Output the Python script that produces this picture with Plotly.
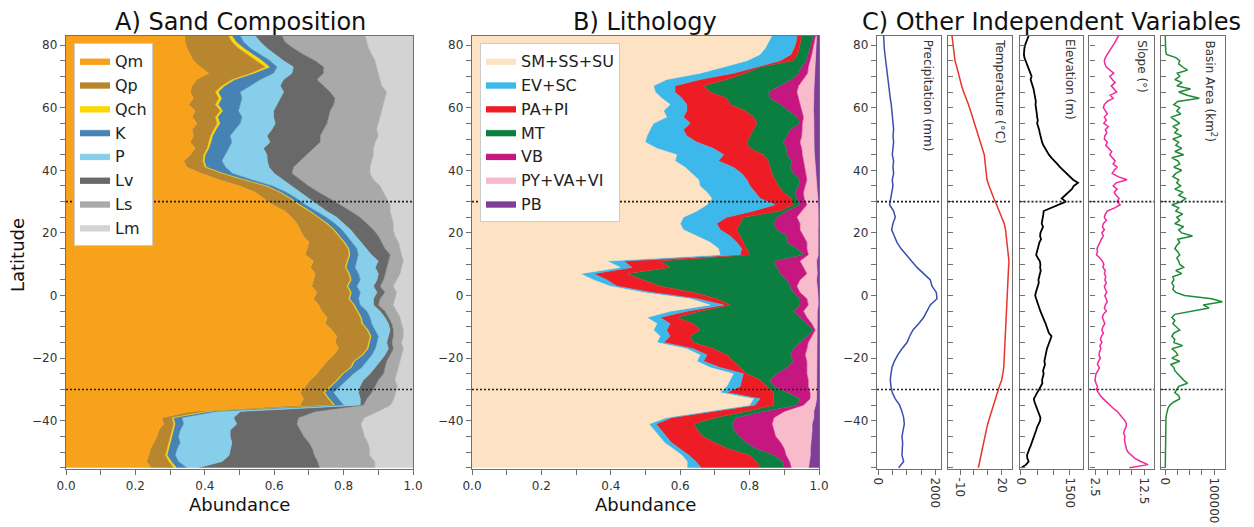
import plotly.graph_objects as go

# ---------------- latitude grids ----------------
lat = list(range(83, -56, -2))        # 70 samples, 83N .. 55S
lat_fine = list(range(83, -56, -1))   # 139 samples

# ---------------- Panel A: sand composition (cumulative upper edges) ----------------
qm_edge = [0.343,0.343,0.348,0.358,0.367,0.387,0.411,0.377,0.363,0.358,
           0.367,0.353,0.372,0.363,0.377,0.363,0.367,0.358,0.372,0.358,
           0.339,0.348,0.390,0.440,0.500,0.545,0.570,0.595,0.630,0.650,
           0.665,0.675,0.684,0.700,0.694,0.689,0.713,0.704,0.718,0.713,
           0.708,0.723,0.713,0.728,0.737,0.752,0.747,0.766,0.780,0.776,
           0.785,0.771,0.752,0.737,0.723,0.704,0.689,0.675,0.684,0.675,
           0.358,0.276,0.281,0.267,0.262,0.252,0.243,0.238,0.232,0.245]
qp_edge = [0.468,0.478,0.497,0.523,0.550,0.574,0.531,0.478,0.449,0.430,
           0.440,0.430,0.444,0.430,0.435,0.425,0.416,0.411,0.406,0.396,
           0.394,0.400,0.450,0.510,0.575,0.615,0.645,0.670,0.700,0.725,
           0.750,0.770,0.785,0.800,0.812,0.815,0.809,0.804,0.814,0.819,
           0.809,0.819,0.814,0.828,0.838,0.848,0.852,0.867,0.876,0.872,
           0.867,0.852,0.828,0.819,0.795,0.780,0.761,0.742,0.756,0.771,
           0.406,0.305,0.310,0.305,0.300,0.296,0.289,0.286,0.296,0.310]
qch_edge = [0.478,0.490,0.512,0.539,0.565,0.586,0.541,0.486,0.457,0.438,
            0.448,0.438,0.451,0.437,0.443,0.432,0.422,0.417,0.411,0.401,
            0.398,0.404,0.453,0.513,0.578,0.618,0.648,0.673,0.703,0.728,
            0.753,0.773,0.788,0.803,0.815,0.818,0.812,0.807,0.817,0.822,
            0.812,0.822,0.817,0.831,0.841,0.851,0.855,0.870,0.879,0.875,
            0.870,0.855,0.831,0.822,0.798,0.783,0.764,0.745,0.759,0.774,
            0.410,0.309,0.314,0.309,0.304,0.300,0.294,0.291,0.303,0.318]
k_edge = [0.502,0.512,0.531,0.560,0.588,0.608,0.598,0.560,0.531,0.502,
          0.507,0.502,0.497,0.507,0.502,0.487,0.473,0.478,0.468,0.459,
          0.449,0.460,0.480,0.535,0.595,0.635,0.665,0.690,0.720,0.750,
          0.775,0.795,0.810,0.825,0.838,0.842,0.838,0.833,0.843,0.848,
          0.838,0.848,0.843,0.848,0.867,0.876,0.881,0.891,0.900,0.896,
          0.891,0.881,0.867,0.852,0.828,0.809,0.790,0.771,0.785,0.800,
          0.435,0.334,0.339,0.329,0.324,0.329,0.320,0.315,0.324,0.348]
p_edge = [0.545,0.560,0.579,0.603,0.627,0.655,0.651,0.627,0.617,0.627,
          0.617,0.607,0.598,0.598,0.603,0.593,0.579,0.588,0.569,0.579,
          0.580,0.585,0.600,0.625,0.650,0.675,0.700,0.725,0.750,0.780,
          0.800,0.820,0.835,0.850,0.865,0.880,0.900,0.891,0.900,0.896,
          0.886,0.896,0.886,0.886,0.905,0.919,0.929,0.934,0.929,0.924,
          0.929,0.919,0.905,0.891,0.876,0.857,0.847,0.843,0.848,0.848,
          0.502,0.483,0.492,0.473,0.473,0.478,0.473,0.470,0.450,0.380]
lv_edge = [0.622,0.631,0.655,0.684,0.718,0.742,0.742,0.723,0.742,0.761,
           0.775,0.771,0.761,0.756,0.752,0.742,0.732,0.732,0.713,0.694,
           0.675,0.655,0.651,0.675,0.699,0.728,0.761,0.790,0.819,0.847,
           0.867,0.886,0.900,0.910,0.919,0.934,0.929,0.924,0.919,0.915,
           0.905,0.919,0.905,0.900,0.919,0.929,0.939,0.943,0.943,0.939,
           0.943,0.934,0.924,0.919,0.915,0.900,0.891,0.881,0.867,0.857,
           0.720,0.670,0.665,0.675,0.685,0.700,0.710,0.715,0.725,0.730]
ls_edge = [0.862,0.867,0.872,0.881,0.891,0.895,0.900,0.905,0.910,0.924,
           0.919,0.915,0.910,0.905,0.900,0.895,0.900,0.891,0.886,0.886,
           0.881,0.876,0.876,0.886,0.905,0.915,0.924,0.934,0.934,0.939,
           0.943,0.943,0.948,0.958,0.963,0.967,0.972,0.967,0.963,0.953,
           0.943,0.953,0.948,0.943,0.953,0.963,0.967,0.972,0.972,0.967,
           0.972,0.967,0.963,0.958,0.953,0.948,0.955,0.950,0.945,0.935,
           0.900,0.860,0.850,0.855,0.860,0.870,0.875,0.875,0.890,0.890]
lm_edge = [1.0] * len(lat)

sand_names = ["Qm", "Qp", "Qch", "K", "P", "Lv", "Ls", "Lm"]
sand_colors = ["#F8A11B", "#B8862E", "#FFD700", "#4682B4", "#87CEEB", "#696969", "#A9A9A9", "#D3D3D3"]
sand_edges = [qm_edge, qp_edge, qch_edge, k_edge, p_edge, lv_edge, ls_edge, lm_edge]

# ---------------- Panel B: lithology (cumulative upper edges) ----------------
sm_edge = [0.864,0.854,0.845,0.830,0.792,0.725,0.657,0.561,0.523,0.528,
           0.547,0.571,0.552,0.561,0.523,0.513,0.504,0.499,0.533,0.590,
           0.585,0.614,0.633,0.653,0.657,0.677,0.691,0.677,0.648,0.609,
           0.600,0.609,0.648,0.686,0.710,0.715,0.389,0.427,0.312,0.350,
           0.398,0.494,0.629,0.686,0.571,0.504,0.533,0.523,0.542,0.533,
           0.619,0.657,0.648,0.686,0.753,0.744,0.734,0.715,0.811,0.800,
           0.680,0.560,0.510,0.525,0.540,0.555,0.580,0.605,0.620,0.620]
ev_edge = [0.936,0.934,0.928,0.919,0.888,0.821,0.753,0.657,0.585,0.585,
           0.605,0.619,0.619,0.609,0.629,0.609,0.619,0.648,0.696,0.725,
           0.710,0.753,0.777,0.792,0.801,0.816,0.830,0.873,0.811,0.734,
           0.705,0.715,0.744,0.763,0.777,0.773,0.437,0.461,0.350,0.389,
           0.417,0.518,0.648,0.725,0.619,0.542,0.571,0.561,0.571,0.552,
           0.638,0.677,0.667,0.715,0.782,0.777,0.773,0.734,0.830,0.815,
           0.700,0.575,0.530,0.545,0.560,0.575,0.600,0.625,0.645,0.660]
pa_edge = [0.950,0.947,0.943,0.938,0.924,0.830,0.787,0.734,0.667,0.686,
           0.734,0.744,0.787,0.811,0.821,0.811,0.801,0.792,0.801,0.840,
           0.854,0.859,0.864,0.873,0.883,0.897,0.921,0.926,0.888,0.782,
           0.773,0.763,0.773,0.782,0.790,0.800,0.542,0.571,0.446,0.494,
           0.542,0.638,0.705,0.744,0.657,0.590,0.638,0.657,0.629,0.638,
           0.696,0.734,0.753,0.773,0.792,0.830,0.849,0.869,0.869,0.870,
           0.790,0.700,0.640,0.650,0.665,0.700,0.740,0.800,0.820,0.830]
mt_edge = [0.984,0.979,0.974,0.969,0.963,0.950,0.941,0.921,0.888,0.854,
           0.859,0.888,0.912,0.936,0.945,0.917,0.907,0.897,0.907,0.907,
           0.921,0.917,0.926,0.945,0.941,0.931,0.936,0.945,0.907,0.878,
           0.869,0.878,0.907,0.907,0.936,0.955,0.869,0.878,0.888,0.907,
           0.917,0.926,0.945,0.945,0.926,0.945,0.965,0.984,0.965,0.945,
           0.926,0.917,0.926,0.907,0.878,0.859,0.869,0.907,0.945,0.935,
           0.840,0.760,0.750,0.755,0.770,0.790,0.820,0.870,0.895,0.900]
vb_edge = [0.990,0.987,0.984,0.979,0.974,0.969,0.967,0.955,0.941,0.936,
           0.941,0.945,0.950,0.955,0.952,0.950,0.950,0.945,0.950,0.952,
           0.955,0.960,0.963,0.965,0.960,0.955,0.957,0.965,0.950,0.936,
           0.945,0.945,0.955,0.965,0.965,0.969,0.945,0.955,0.965,0.945,
           0.936,0.945,0.965,0.969,0.955,0.965,0.979,0.989,0.979,0.969,
           0.965,0.960,0.965,0.965,0.965,0.969,0.969,0.974,0.974,0.955,
           0.900,0.870,0.865,0.870,0.875,0.890,0.900,0.905,0.915,0.920]
py_edge = [0.993,0.992,0.990,0.989,0.988,0.988,0.988,0.987,0.986,0.985,
           0.985,0.984,0.984,0.985,0.985,0.984,0.984,0.984,0.986,0.987,
           0.988,0.989,0.990,0.992,0.993,0.995,0.997,0.998,0.998,0.999,
           0.999,0.998,0.998,0.998,0.998,0.998,0.993,0.995,0.995,0.993,
           0.995,0.997,0.998,0.998,0.995,0.995,0.995,0.995,0.995,0.995,
           0.995,0.995,0.995,0.995,0.995,0.995,0.995,0.995,0.993,0.990,
           0.985,0.985,0.980,0.980,0.978,0.978,0.975,0.975,0.972,0.970]
pb_edge = [1.0] * len(lat)

lith_names = ["SM+SS+SU", "EV+SC", "PA+PI", "MT", "VB", "PY+VA+VI", "PB"]
lith_colors = ["#FDE3C4", "#3CB8EA", "#EE1D25", "#0B7F40", "#C5177F", "#F8BBCB", "#7D3F98"]
lith_edges = [sm_edge, ev_edge, pa_edge, mt_edge, vb_edge, py_edge, pb_edge]

# ---------------- Panel C: other independent variables ----------------
precip_mm = [187,187,211,234,257,281,304,339,374,397,
             421,456,480,515,538,538,515,538,515,491,
             538,515,538,491,515,468,445,397,538,596,
             515,468,562,655,796,983,1181,1357,1591,1825,
             1884,2036,2059,1825,1708,1591,1416,1217,1100,1006,
             831,679,562,480,445,421,445,491,596,749,
             831,889,913,866,831,854,842,831,889,714]
temp_c = [-16,-15.5,-15,-14.5,-13.8,-12.5,-11.5,-10.5,-9,-7.5,
          -5.5,-4,-2.5,-1,0.5,2,3.5,4.5,6.5,7.5,
          8,8.5,9,9.5,11,12.5,14.5,16.5,18.5,20.5,
          22,23,23.5,24.2,25,25.5,25.5,25.2,25,24.8,
          24.5,24.3,24,23.8,23.6,23.4,23.3,23.2,23,22.5,
          22.3,22.3,22,21.7,21,20.2,18.5,17,16,14.5,
          13,11.5,10,9,8,7,6,5,4,3.2]
elev_m = [240,200,160,130,110,100,95,110,150,190,
          230,260,290,330,300,340,360,390,410,420,
          440,460,450,470,480,490,500,520,500,540,
          560,580,600,620,650,690,740,800,860,940,
          1040,1120,1200,1300,1380,1480,1600,1750,1620,1560,
          1450,1350,1250,1380,1150,900,700,690,670,650,
          640,680,630,600,590,620,570,540,520,490,
          470,520,580,600,590,610,580,560,540,550,
          530,490,460,440,470,500,520,560,600,640,
          690,720,760,790,820,860,940,900,860,830,
          800,780,760,740,720,740,700,680,700,670,
          650,660,620,560,500,450,400,420,460,500,
          540,580,600,590,540,500,470,440,400,360,
          330,300,260,220,190,200,240,160,20]
slope_deg = [7.3,7.0,6.6,6.2,5.8,5.4,5.0,4.6,4.4,4.5,
             4.8,5.6,6.3,5.5,6.0,6.6,5.8,6.4,6.9,5.6,
             6.2,5.0,4.4,4.2,4.6,5.0,4.4,4.8,4.3,5.2,
             4.6,4.9,4.5,4.4,5.0,4.7,5.3,5.9,5.5,6.0,
             6.6,6.2,7.0,6.4,6.0,7.2,9.0,6.8,6.2,7.0,
             6.4,6.8,7.4,7.0,7.6,6.5,5.0,4.6,4.4,4.8,
             4.2,4.0,4.4,3.9,4.2,3.8,3.5,3.2,2.9,3.0,
             2.8,3.5,4.0,4.3,4.1,4.6,4.4,4.7,4.5,4.8,
             4.4,4.6,4.9,4.5,4.7,5.0,4.6,4.4,4.8,4.2,
             4.0,4.3,4.5,4.1,3.9,4.2,3.8,3.6,3.9,3.5,
             3.7,3.4,3.3,3.6,3.2,3.0,3.4,3.1,2.7,2.6,
             2.5,2.7,3.0,2.8,3.2,3.6,4.2,4.8,5.5,6.2,
             7.0,7.6,8.2,8.6,8.9,8.8,8.5,8.3,8.6,8.5,
             8.6,8.7,8.9,9.2,9.8,10.6,11.8,13.3,9.5]
basin_km2 = [500,500,600,800,1000,1500,3000,22000,30000,28000,
             36000,46000,25000,30000,20000,35000,24000,52000,28000,45000,
             70000,26000,18000,30000,24000,32000,12000,22000,30000,16000,
             26000,20000,34000,16000,28000,22000,34000,20000,38000,14000,
             26000,30000,18000,34000,22000,16000,28000,24000,32000,20000,
             36000,28000,42000,34000,14000,28000,22000,36000,24000,30000,
             20000,38000,28000,34000,56000,26000,30000,24000,20000,26000,
             30000,24000,28000,30000,38000,22000,34000,16000,18000,14000,
             18000,16000,22000,40000,95000,117000,78000,90000,56000,20000,
             14000,20000,16000,22000,30000,18000,14000,20000,18000,36000,
             14000,22000,26000,14000,30000,12000,18000,20000,26000,30000,
             38000,46000,28000,24000,20000,28000,30000,18000,10000,6000,
             4000,3000,2000,2000,1500,1500,1000,1000,800,700,
             600,600,500,500,500,500,500,500,500]

# ---------------- geometry ----------------
W, H = 1254, 527
def fx(p):
    return p / W
def fy(p):
    return 1 - p / H

YDOM = [fy(469.0), fy(35.7)]
YR = [-55.4, 83.0]
DOM_A = [fx(66), fx(413)]
DOM_B = [fx(472), fx(819)]
DOM_C = [[fx(877), fx(941)], [fx(948), fx(1012)], [fx(1019.5), fx(1083)],
         [fx(1089.3), fx(1154)], [fx(1160.7), fx(1225)]]

FONT = "DejaVu Sans"
FRAME = "#707070"
TICKFONT = dict(family=FONT, size=12, color="#333333")

fig = go.Figure()

for i, (nm, edge, col) in enumerate(zip(sand_names, sand_edges, sand_colors)):
    fig.add_trace(go.Scatter(x=edge, y=lat, mode="lines", name=nm,
                             line=dict(color=col, width=0.6),
                             fill="tozerox" if i == 0 else "tonextx", fillcolor=col,
                             xaxis="x", yaxis="y", legend="legend", hoverinfo="skip"))

for i, (nm, edge, col) in enumerate(zip(lith_names, lith_edges, lith_colors)):
    fig.add_trace(go.Scatter(x=edge, y=lat, mode="lines", name=nm,
                             line=dict(color=col, width=0.6),
                             fill="tozerox" if i == 0 else "tonextx", fillcolor=col,
                             xaxis="x2", yaxis="y2", legend="legend2", hoverinfo="skip"))

c_series = [(precip_mm, lat, "#3A4DB0", 1.5), (temp_c, lat, "#E8352B", 1.5),
            (elev_m, lat_fine, "#000000", 1.8), (slope_deg, lat_fine, "#F0289A", 1.5),
            (basin_km2, lat_fine, "#1E8A35", 1.5)]
for k, (xs, ys, col, w) in enumerate(c_series):
    fig.add_trace(go.Scatter(x=xs, y=ys, mode="lines", line=dict(color=col, width=w),
                             xaxis="x%d" % (k + 3), yaxis="y%d" % (k + 3),
                             showlegend=False, hoverinfo="skip"))

base = dict(showline=True, linecolor=FRAME, linewidth=1.4, mirror=True, showgrid=False,
            zeroline=False, ticklen=5, tickwidth=1.1, tickcolor=FRAME, tickfont=TICKFONT,
            automargin=False)

def yax(anchor, labels=True, inside=False):
    d = dict(base)
    d.update(domain=YDOM, range=YR, anchor=anchor, tickmode="array",
             tickvals=[-40, -20, 0, 20, 40, 60, 80], showticklabels=labels,
             ticks="inside" if inside else "outside",
             minor=dict(dtick=5, tick0=0, ticks="inside" if inside else "outside",
                        ticklen=5, tickwidth=1.1, tickcolor=FRAME))
    return d

def xab(dom, anchor):
    d = dict(base)
    d.update(domain=dom, range=[0, 1], anchor=anchor, dtick=0.2, tick0=0, tickformat=".1f",
             ticks="outside",
             minor=dict(dtick=0.1, tick0=0, ticks="outside", ticklen=5, tickwidth=1.1, tickcolor=FRAME))
    return d

def xc(dom, anchor, rng, vals, texts, mdt, mt0=0):
    d = dict(base)
    d.update(domain=dom, range=rng, anchor=anchor, tickmode="array", tickvals=vals, ticktext=texts,
             tickangle=90, ticks="outside",
             minor=dict(dtick=mdt, tick0=mt0, ticks="outside", ticklen=5, tickwidth=1.1, tickcolor=FRAME))
    return d

legend_common = dict(xanchor="left", yanchor="top", bgcolor="white", bordercolor="#CCCCCC",
                     borderwidth=1, font=dict(family=FONT, size=16, color="#222222"),
                     tracegroupgap=0, itemclick=False, traceorder="normal")

fig.update_layout(
    width=W, height=H, margin=dict(l=0, r=0, t=0, b=0),
    paper_bgcolor="white", plot_bgcolor="white",
    font=dict(family=FONT, color="#222222"),
    xaxis=xab(DOM_A, "y"), yaxis=yax("x"),
    xaxis2=xab(DOM_B, "y2"), yaxis2=yax("x2"),
    xaxis3=xc(DOM_C[0], "y3", [-45, 2200], [0, 2000], ["0", "2000"], 500),
    xaxis4=xc(DOM_C[1], "y4", [-18.9, 27.7], [-10, 20], ["-10", "20"], 10),
    xaxis5=xc(DOM_C[2], "y5", [-40, 1903], [0, 1500], ["0", "1500"], 500),
    xaxis6=xc(DOM_C[3], "y6", [1.34, 14.5], [2.5, 12.5], ["2.5", "12.5"], 2.5),
    xaxis7=xc(DOM_C[4], "y7", [-8800, 122450], [0, 100000], ["0", "100000"], 25000),
    yaxis3=yax("x3"),
    yaxis4=yax("x4", labels=False, inside=True),
    yaxis5=yax("x5", labels=False, inside=True),
    yaxis6=yax("x6", labels=False, inside=True),
    yaxis7=yax("x7", labels=False, inside=True),
    legend=dict(legend_common, x=fx(74), y=fy(43)),
    legend2=dict(legend_common, x=fx(480), y=fy(43)),
)

# dotted lines at +/-30 latitude in every panel
for k in range(1, 8):
    xr = "x" if k == 1 else "x%d" % k
    yr = "y" if k == 1 else "y%d" % k
    for yv in (30, -30):
        fig.add_shape(type="line", xref=xr + " domain", yref=yr, x0=0, x1=1, y0=yv, y1=yv,
                      line=dict(color="#222222", width=1.6, dash="2px,2px"), layer="above")

ann = []
titles = [("A) Sand Composition", 240), ("B) Lithology", 645), ("C) Other Independent Variables", 1051)]
for txt, cx in titles:
    ann.append(dict(text=txt, x=fx(cx), y=fy(22), xref="paper", yref="paper",
                    xanchor="center", yanchor="middle", showarrow=False,
                    font=dict(family=FONT, size=24, color="#111111")))
for cx in (239, 645):
    ann.append(dict(text="Abundance", x=fx(cx), y=fy(504), xref="paper", yref="paper",
                    xanchor="center", yanchor="middle", showarrow=False,
                    font=dict(family=FONT, size=18, color="#111111")))
ann.append(dict(text="Latitude", x=fx(17), y=fy(255), xref="paper", yref="paper", textangle=-90,
                xanchor="center", yanchor="middle", showarrow=False,
                font=dict(family=FONT, size=18, color="#111111")))

c_labels = [("Precipitation (mm)", 0.80, 96), ("Temperature (°C)", 0.81, 92),
            ("Elevation (m)", 0.795, 80), ("Slope (°)", 0.81, 66),
            ("Basin Area (km<sup>2</sup>)", 0.79, 91)]
for k, (txt, xd, cy) in enumerate(c_labels):
    ax = k + 3
    ann.append(dict(text=txt, xref="x%d domain" % ax, yref="paper", x=xd, y=fy(cy),
                    xanchor="center", yanchor="middle", textangle=90, showarrow=False,
                    font=dict(family=FONT, size=12, color="#333333")))
fig.update_layout(annotations=ann)

fig.write_html("out.html", config={"displayModeBar": False},
               post_script="document.body.style.margin='0';document.body.style.overflow='hidden';")
